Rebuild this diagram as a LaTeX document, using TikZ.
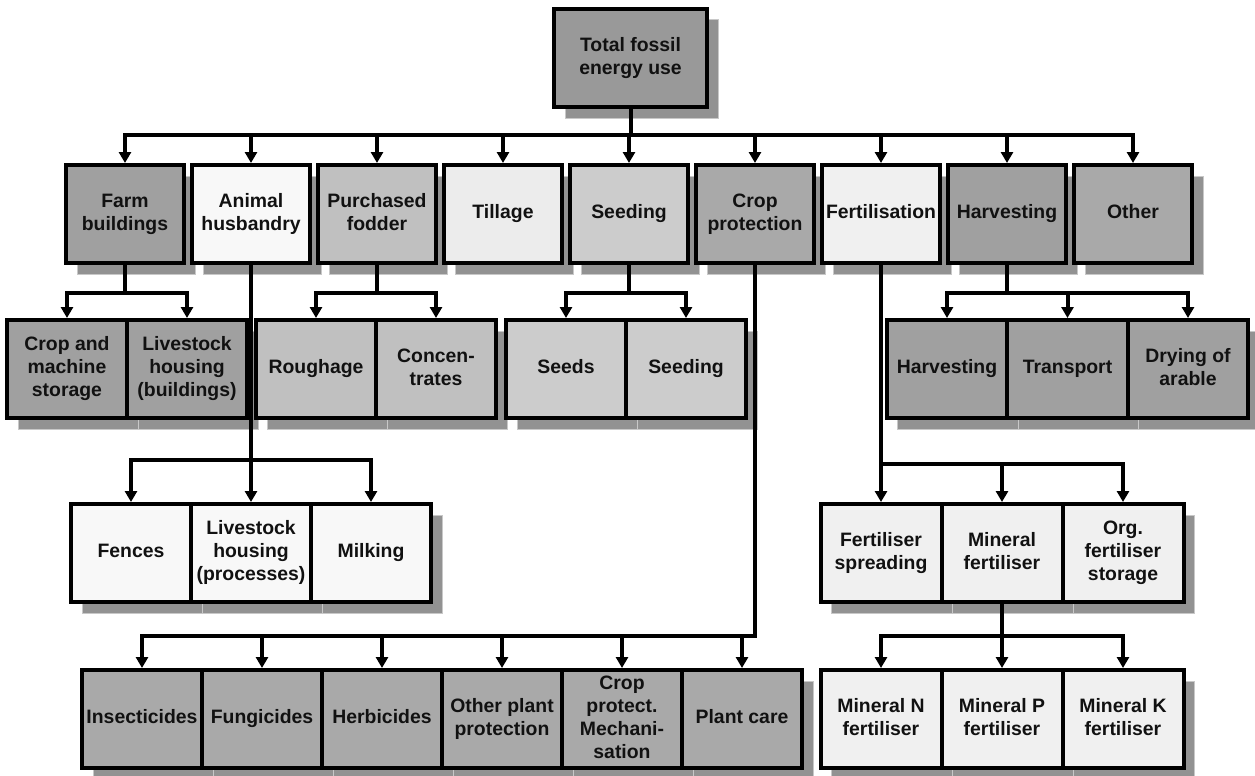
\documentclass[tikz,border=0pt]{standalone}
\usepackage{fontspec}
\setmainfont{Liberation Sans}
\usetikzlibrary{arrows.meta,shadows}

\definecolor{topgray}{HTML}{999999}
\definecolor{darkA}{HTML}{A0A0A0}
\definecolor{darkB}{HTML}{A9A9A9}
\definecolor{midA}{HTML}{C0C0C0}
\definecolor{midB}{HTML}{CCCCCC}
\definecolor{lightA}{HTML}{ECECEC}
\definecolor{lightB}{HTML}{F0F0F0}
\definecolor{lightC}{HTML}{F8F8F8}
\definecolor{shadowgray}{HTML}{929292}
\definecolor{shadowedge}{HTML}{C8C8C8}
\definecolor{ink}{HTML}{111111}

\tikzset{
  box/.style={draw=black, line width=4pt, align=center, inner sep=2pt,
    minimum height=98pt, text=ink,
    font=\bfseries\fontsize{19.4}{23}\selectfont,
    execute at begin node={\vphantom{Ag}},
    execute at end node={\vphantom{gy}},
    general shadow={fill=shadowgray, draw=shadowedge, line width=1pt,
      shadow xshift=11pt, shadow yshift=-11pt}},
  solo/.style={box, minimum width=118pt},
  cell/.style={box, minimum width=#1},
  arr/.style={line width=4pt, -{Triangle[width=12pt,length=11pt]}},
}

\begin{document}
\begin{tikzpicture}[x=1pt,y=-1pt]
\useasboundingbox (0,0) rectangle (1255,776);
\fill[white] (0,0) rectangle (1255,776);

% root
\node[box, fill=topgray, minimum width=153pt] (top) at (630.5,58) {Total fossil\\energy use};

% first level
\node[solo, fill=darkA]  (fb) at (125,214) {Farm\\buildings};
\node[solo, fill=lightC] (ah) at (251,214) {Animal\\husbandry};
\node[solo, fill=midA]   (pf) at (377,214) {Purchased\\fodder};
\node[solo, fill=lightA] (ti) at (503,214) {Tillage};
\node[solo, fill=midB]   (se) at (629,214) {Seeding};
\node[solo, fill=darkB]  (cp) at (755,214) {Crop\\protection};
\node[solo, fill=lightB] (fe) at (881,214) {Fertilisation};
\node[solo, fill=darkA]  (ha) at (1007,214) {Harvesting};
\node[solo, fill=darkB]  (ot) at (1133,214) {Other};

% second level
\node[cell=120pt, fill=darkA] (cms) at (67,369)  {Crop and\\machine\\storage};
\node[cell=120pt, fill=darkA] (lhb) at (187,369) {Livestock\\housing\\(buildings)};
\node[cell=120pt, fill=midA]  (rou) at (316,369) {Roughage};
\node[cell=120pt, fill=midA]  (con) at (436,369) {Concen-\\trates};
\node[cell=120pt, fill=midB]  (sds) at (566,369) {Seeds};
\node[cell=120pt, fill=midB]  (sdg) at (686,369) {Seeding};
\node[cell=120.5pt, fill=darkA] (hv) at (947,369)    {Harvesting};
\node[cell=120.5pt, fill=darkA] (tr) at (1067.5,369) {Transport};
\node[cell=120.5pt, fill=darkA] (dr) at (1188,369)   {Drying of\\arable};

% third level
\node[cell=120pt, fill=lightC] (fen) at (131,553) {Fences};
\node[cell=120pt, fill=lightC] (lhp) at (251,553) {Livestock\\housing\\(processes)};
\node[cell=120pt, fill=lightC] (mil) at (371,553) {Milking};
\node[cell=121pt, fill=lightB] (fsp) at (881,553)  {Fertiliser\\spreading};
\node[cell=121pt, fill=lightB] (mf)  at (1002,553) {Mineral\\fertiliser};
\node[cell=121pt, fill=lightB] (ofs) at (1123,553) {Org.\\fertiliser\\storage};

% fourth level
\node[cell=120pt, fill=darkB] (ins) at (142,719) {Insecticides};
\node[cell=120pt, fill=darkB] (fun) at (262,719) {Fungicides};
\node[cell=120pt, fill=darkB] (her) at (382,719) {Herbicides};
\node[cell=120pt, fill=darkB] (opp) at (502,719) {Other plant\\protection};
\node[cell=120pt, fill=darkB] (cpm) at (622,719) {Crop\\protect.\\Mechani-\\sation};
\node[cell=120pt, fill=darkB] (pc)  at (742,719) {Plant care};
\node[cell=121pt, fill=lightB] (mn) at (881,719)  {Mineral N\\fertiliser};
\node[cell=121pt, fill=lightB] (mp) at (1002,719) {Mineral P\\fertiliser};
\node[cell=121pt, fill=lightB] (mk) at (1123,719) {Mineral K\\fertiliser};

% bus levels
\coordinate (bus0) at (0,135);
\coordinate (busB) at (0,293);
\coordinate (busA) at (0,460);
\coordinate (busF) at (0,464);
\coordinate (busC) at (0,636);

% root to first level
\draw[arr] (top.south) -- (top.south |- bus0) -| (fb.north);
\draw[arr] (top.south |- bus0) -| (ot.north);
\foreach \n in {ah,pf,ti,se,cp,fe,ha}
  \draw[arr] (\n.north |- bus0) -- (\n.north);

% farm buildings
\draw[arr] (fb.south) -- (fb.south |- busB) -| (cms.north);
\draw[arr] (fb.south |- busB) -| (lhb.north);

% purchased fodder
\draw[arr] (pf.south) -- (pf.south |- busB) -| (rou.north);
\draw[arr] (pf.south |- busB) -| (con.north);

% seeding
\draw[arr] (se.south) -- (se.south |- busB) -| (sds.north);
\draw[arr] (se.south |- busB) -| (sdg.north);

% harvesting
\draw[arr] (ha.south) -- (ha.south |- busB) -| (hv.north);
\draw[arr] (ha.south |- busB) -| (dr.north);
\draw[arr] (tr.north |- busB) -- (tr.north);

% animal husbandry
\draw[arr] (ah.south) -- (lhp.north);
\draw[arr] (ah.south |- busA) -| (fen.north);
\draw[arr] (ah.south |- busA) -| (mil.north);

% fertilisation
\draw[arr] (fe.south) -- (fsp.north);
\draw[arr] (fe.south |- busF) -| (ofs.north);
\draw[arr] (mf.north |- busF) -- (mf.north);

% crop protection
\draw[arr] (cp.south) -- (cp.south |- busC) -| (ins.north);
\foreach \n in {fun,her,opp,cpm,pc}
  \draw[arr] (\n.north |- busC) -- (\n.north);

% mineral fertiliser
\draw[arr] (mf.south) -- (mp.north);
\draw[arr] (mf.south |- busC) -| (mn.north);
\draw[arr] (mf.south |- busC) -| (mk.north);
\end{tikzpicture}
\end{document}
